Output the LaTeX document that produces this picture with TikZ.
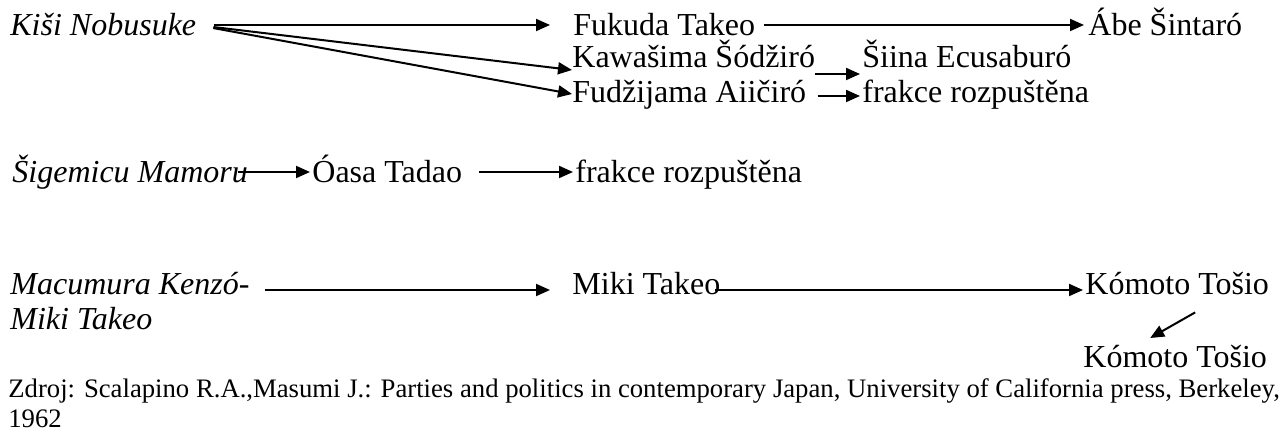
\documentclass[tikz,border=0pt]{standalone}
\usepackage{fontspec}
\setmainfont{Liberation Serif}
\usetikzlibrary{
  arrows.meta,
  positioning,  % Function "of" (e.g. [right=of x])
}
\def\myfont{\fontsize{16pt}{19pt}\selectfont}
\def\mysrcfont{\fontsize{13.35pt}{16pt}\selectfont}
\tikzset{
  semithick,
  >={Triangle[length=7pt,width=6pt]},
  my name/.style={
    anchor=base west,
    inner sep=0pt,
    text height=11pt,
    text depth=0pt,
    font=\myfont
  },
  my leader/.style={
    my name,
    font=\myfont\itshape
  },
  my source/.style={
    anchor=base west,
    inner sep=0pt,
    font=\mysrcfont
  },
  my arrow/.style={
    ->,
    line width=1pt
  }
}
\begin{document}
\begin{tikzpicture}[x=0.5pt,y=-0.5pt]
\useasboundingbox (0,0) rectangle (1285,437);
\node[my leader] (kisi)      at (10,36)   {Kiši Nobusuke};
\node[my name]   (fukuda)    at (573,36)  {Fukuda Takeo};
\node[my name]   (abe)       at (1088,36) {Ábe Šintaró};
\node[my name]   (kawasima)  at (572,68)  {Kawašima Šódžiró};
\node[my name]   (siina)     at (862,68)  {Šiina Ecusaburó};
\node[my name]   (fudzijama) at (572,103) {Fudžijama Aiičiró};
\node[my name]   (rozp1)     at (862,103) {frakce rozpuštěna};
\node[my leader] (sigemicu)  at (12,183)  {Šigemicu Mamoru};
\node[my name]   (oasa)      at (312,183) {Óasa Tadao};
\node[my name]   (rozp2)     at (575,183) {frakce rozpuštěna};
\node[my leader] (macumura)  at (10,295)  {Macumura Kenzó-};
\node[my leader] (miki1)     at (10,330)  {Miki Takeo};
\node[my name]   (miki)      at (572,295) {Miki Takeo};
\node[my name]   (komoto)    at (1085,295){Kómoto Tošio};
\node[my name]   (komoto2)   at (1083,368){Kómoto Tošio};
\node[my source] (zdroj)     at (8,398)   {Zdroj: Scalapino R.A.,Masumi J.: Parties and politics in contemporary Japan, University of California press, Berkeley,};
\node[my source] (rok)       at (8,428)   {1962};
\path[my arrow]
  (kisi.east)      edge[shorten <=8.5pt,shorten >=11.5pt] (fukuda.west)
  (kisi.east)      edge[shorten <=8.5pt]                  ([yshift=-1pt]kawasima.base west)
  (kisi.east)      edge[shorten <=8.5pt]                  ([yshift=-1pt]fudzijama.west)
  (fukuda.east)    edge[shorten <=4pt,shorten >=2pt]      (abe.west)
  ([yshift=-3pt]kawasima.base east)
                   edge[shorten >=1pt]                    ([yshift=-3pt]siina.base west)
  ([yshift=-2pt]fudzijama.east)
                   edge[shorten <=5.5pt,shorten >=1pt]    ([yshift=-2pt]rozp1.west)
  (sigemicu.east)  edge[shorten <=-5pt,shorten >=1pt]     (oasa.west)
  (oasa.east)      edge[shorten <=8.5pt,shorten >=1pt]    (rozp2.west)
  ([yshift=2.5pt]macumura.base east)
                   edge[shorten <=7.5pt,shorten >=11pt]   ([yshift=2.5pt]miki.base west)
  ([yshift=2.5pt]miki.base east)
                   edge[shorten <=-3pt,shorten >=1pt]     ([yshift=2.5pt]komoto.base west)
  ([shift={(9pt,-8.5pt)}]komoto.south)
                   edge                                   ([shift={(-12.5pt,3.8pt)}]komoto2.north);
\end{tikzpicture}
\end{document}
